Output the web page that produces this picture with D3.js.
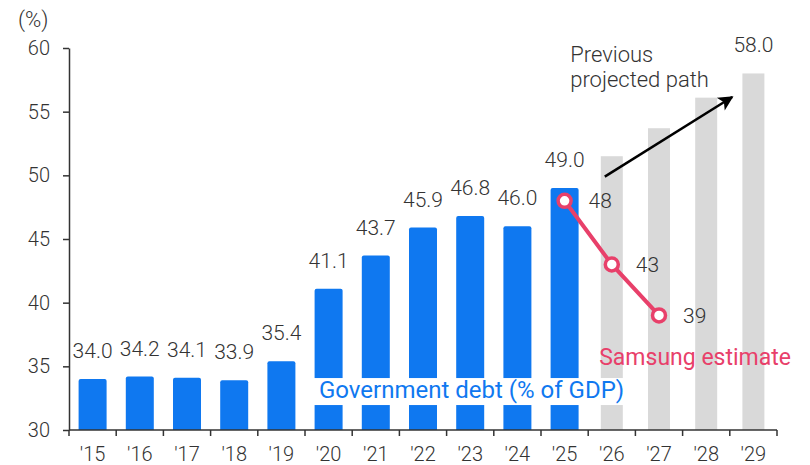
<!DOCTYPE html>
<html>
<head>
<meta charset="utf-8">
<script src="https://cdn.jsdelivr.net/npm/d3@7"></script>
<style>
  body { margin: 0; background: #fff; }
  svg { display: block; font-family: Roboto, sans-serif; }
</style>
</head>
<body>
<div id="chart"></div>
<script>
// data
const years = ["'15","'16","'17","'18","'19","'20","'21","'22","'23","'24","'25","'26","'27","'28","'29"];
const debtYears = ["'15","'16","'17","'18","'19","'20","'21","'22","'23","'24","'25"];
const debtValues = [34.0, 34.2, 34.1, 33.9, 35.4, 41.1, 43.7, 45.9, 46.8, 46.0, 49.0];
const prevYears = ["'26","'27","'28","'29"];
const prevValues = [51.5, 53.7, 56.1, 58.0];
const estYears = ["'25","'26","'27"];
const estValues = [48, 43, 39];
const yTicks = [30, 35, 40, 45, 50, 55, 60];

const width = 810;
const height = 465;
const blue = "#0f78f0";
const pink = "#e8406a";
const grey = "#d9d9d9";
const ink = "#333";

const svg = d3.select("#chart")
  .append("svg")
  .attr("width", width)
  .attr("height", height);

const x = d3.scaleBand()
  .domain(years)
  .range([69, 777]);

const y = d3.scaleLinear()
  .domain([30, 60])
  .range([430, 48]);

const cx = d => x(d) + x.bandwidth() / 2;

// previous projection (grey bars)
const greyW = 22;
svg.selectAll(".prev")
  .data(prevYears)
  .enter()
  .append("rect")
  .attr("class", "prev")
  .attr("x", d => cx(d) - greyW / 2)
  .attr("y", (d, i) => y(prevValues[i]))
  .attr("width", greyW)
  .attr("height", (d, i) => y(30) - y(prevValues[i]))
  .attr("fill", grey);

// government debt bars
const barW = 28;
svg.selectAll(".debt")
  .data(debtYears)
  .enter()
  .append("path")
  .attr("class", "debt")
  .attr("fill", blue)
  .attr("d", (d, i) => {
    const x0 = cx(d) - barW / 2, x1 = x0 + barW;
    const y0 = y(debtValues[i]), y1 = y(30), r = 2;
    return `M${x0},${y1}V${y0 + r}Q${x0},${y0} ${x0 + r},${y0}H${x1 - r}Q${x1},${y0} ${x1},${y0 + r}V${y1}Z`;
  });

// value labels
svg.selectAll(".vlabel")
  .data(debtYears)
  .enter()
  .append("text")
  .attr("x", d => cx(d))
  .attr("y", (d, i) => y(debtValues[i]) - 21)
  .attr("text-anchor", "middle")
  .attr("font-size", 21)
  .attr("font-weight", 300)
  .attr("fill", ink)
  .text((d, i) => debtValues[i].toFixed(1));

svg.append("text")
  .attr("x", cx("'29"))
  .attr("y", y(prevValues[3]) - 21)
  .attr("text-anchor", "middle")
  .attr("font-size", 21)
  .attr("font-weight", 300)
  .attr("fill", ink)
  .text(prevValues[3].toFixed(1));

// series label with white box
svg.append("rect")
  .attr("x", x("'20") - 3)
  .attr("y", y(34.08))
  .attr("width", x("'26") + x.bandwidth() / 2 + greyW / 2 + 4 - (x("'20") - 3))
  .attr("height", y(31.96) - y(34.08))
  .attr("fill", "#fff");

svg.append("text")
  .attr("x", x("'20") + 14)
  .attr("y", y(32.5))
  .attr("font-size", 24)
  .attr("fill", blue)
  .text("Government debt (% of GDP)");

// axes
const yAxis = svg.append("g")
  .attr("transform", `translate(${x.range()[0]},0)`)
  .call(d3.axisLeft(y).tickValues(yTicks).tickSize(6).tickPadding(13).tickSizeOuter(0));
yAxis.select(".domain").attr("stroke", ink).attr("stroke-width", 1.5);
yAxis.selectAll(".tick line").attr("stroke", ink).attr("stroke-width", 1.5);
yAxis.selectAll("text")
  .attr("font-size", 20)
  .attr("font-weight", 300)
  .attr("font-family", "Roboto, sans-serif")
  .attr("fill", ink);

const xAxis = svg.append("g")
  .attr("transform", `translate(0,${y(30)})`);
xAxis.append("line")
  .attr("x1", x.range()[0])
  .attr("x2", x.range()[1])
  .attr("stroke", ink)
  .attr("stroke-width", 1.5);
xAxis.selectAll(".tk")
  .data(years.concat(["end"]))
  .enter()
  .append("line")
  .attr("x1", (d, i) => x.range()[0] + i * x.step())
  .attr("x2", (d, i) => x.range()[0] + i * x.step())
  .attr("y1", 0)
  .attr("y2", 6)
  .attr("stroke", ink)
  .attr("stroke-width", 1.5);
xAxis.selectAll(".xl")
  .data(years)
  .enter()
  .append("text")
  .attr("x", d => cx(d))
  .attr("y", 31)
  .attr("text-anchor", "middle")
  .attr("font-size", 20)
  .attr("font-weight", 300)
  .attr("fill", ink)
  .text(d => d);

svg.append("text")
  .attr("x", 18)
  .attr("y", 27)
  .attr("font-size", 22)
  .attr("font-weight", 300)
  .attr("fill", ink)
  .text("(%)");

// Samsung estimate line
const line = d3.line()
  .x((d, i) => cx(estYears[i]))
  .y(d => y(d));

svg.append("path")
  .datum(estValues)
  .attr("d", line)
  .attr("fill", "none")
  .attr("stroke", pink)
  .attr("stroke-width", 4);

svg.selectAll(".est")
  .data(estValues)
  .enter()
  .append("circle")
  .attr("cx", (d, i) => cx(estYears[i]))
  .attr("cy", d => y(d))
  .attr("r", 6.5)
  .attr("fill", "#fff")
  .attr("stroke", pink)
  .attr("stroke-width", 3.5);

svg.selectAll(".estl")
  .data(estValues)
  .enter()
  .append("text")
  .attr("x", (d, i) => cx(estYears[i]) + 24)
  .attr("y", d => y(d) + 7.5)
  .attr("font-size", 21)
  .attr("font-weight", 300)
  .attr("fill", ink)
  .text(d => d);

svg.append("text")
  .attr("x", x("'26") + 11)
  .attr("y", y(35.1))
  .attr("font-size", 23)
  .attr("fill", pink)
  .text("Samsung estimate");

// previous projected path annotation
svg.append("defs").append("marker")
  .attr("id", "arrow")
  .attr("viewBox", "0 0 10 10")
  .attr("refX", 9)
  .attr("refY", 5)
  .attr("markerUnits", "userSpaceOnUse")
  .attr("markerWidth", 18)
  .attr("markerHeight", 15)
  .attr("orient", "auto")
  .append("path")
  .attr("d", "M0,0L10,5L0,10L2.5,5Z")
  .attr("fill", "#000");

svg.append("line")
  .attr("x1", cx("'26") - 7)
  .attr("y1", y(49.9))
  .attr("x2", cx("'28") + 26)
  .attr("y2", y(56.15))
  .attr("stroke", "#000")
  .attr("stroke-width", 2.5)
  .attr("marker-end", "url(#arrow)");

const note = svg.append("text")
  .attr("font-size", 22)
  .attr("font-weight", 300)
  .attr("fill", ink);
note.append("tspan").attr("x", x("'26") - 18).attr("y", 62).text("Previous");
note.append("tspan").attr("x", x("'26") - 18).attr("y", 87).text("projected path");
</script>
</body>
</html>
